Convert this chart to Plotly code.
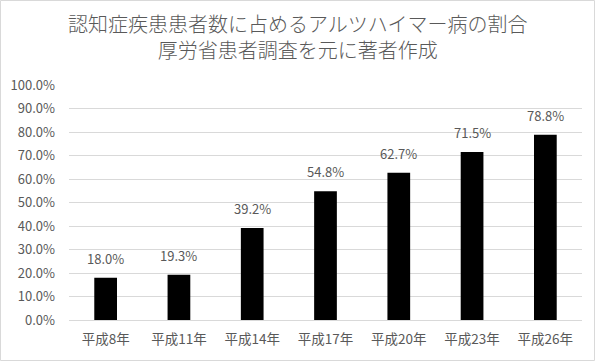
import plotly.graph_objects as go

categories = ["平成8年", "平成11年", "平成14年", "平成17年", "平成20年", "平成23年", "平成26年"]
values = [0.180, 0.193, 0.392, 0.548, 0.627, 0.715, 0.788]
y_ticks = [i / 10 for i in range(11)]
title_text = "認知症疾患患者数に占めるアルツハイマー病の割合<br>厚労省患者調査を元に著者作成"

W, H = 600, 361
ML, MR, MT, MB = 69, 18, 85, 41
PW, PH = W - ML - MR, H - MT - MB

FONT = "Noto Sans CJK JP"
GRAY = "#595959"

fig = go.Figure()
fig.add_trace(go.Bar(
    x=categories, y=values,
    marker=dict(color="#000000", line=dict(width=0)),
    hoverinfo="skip",
))

for c, v in zip(categories, values):
    fig.add_annotation(
        x=c, y=v, text=f"{v*100:.1f}%", showarrow=False,
        yanchor="bottom", yshift=8,
        font=dict(family=FONT, size=13, color=GRAY),
    )

# two-line title as an annotation for exact placement
fig.add_annotation(
    text=title_text, xref="paper", yref="paper",
    x=(W / 2 - 3 - ML) / PW, xanchor="center",
    y=1 + (MT - 7) / PH, yanchor="top",
    showarrow=False, align="center",
    font=dict(family=FONT, size=20, color=GRAY, weight=300),
)

# outer light border
fig.add_shape(
    type="rect", xref="paper", yref="paper",
    x0=-(ML - 0.5) / PW, x1=1 + (MR - 5.5) / PW,
    y0=-(MB - 0.5) / PH, y1=1 + (MT - 0.5) / PH,
    line=dict(color="#d9d9d9", width=1), fillcolor="rgba(0,0,0,0)", layer="below",
)

fig.update_layout(
    width=W, height=H,
    margin=dict(l=ML, r=MR, t=MT, b=MB, pad=0),
    paper_bgcolor="white", plot_bgcolor="white",
    showlegend=False,
    bargap=0.69,
    font=dict(family=FONT, color=GRAY),
    xaxis=dict(
        showgrid=False, showline=False, zeroline=False, ticks="",
        tickfont=dict(family=FONT, size=13.5, color=GRAY),
        ticklabelstandoff=9,
    ),
    yaxis=dict(
        range=[0, 1.0], tickvals=y_ticks, tickformat=".1%",
        showgrid=True, gridcolor="#d9d9d9", gridwidth=1,
        zeroline=True, zerolinecolor="#d9d9d9", zerolinewidth=1,
        showline=False, ticks="",
        tickfont=dict(family=FONT, size=13, color=GRAY),
        ticklabelstandoff=13,
    ),
)

fig.write_html(
    "out.html",
    config={"displayModeBar": False},
    post_script="document.body.style.margin='0';document.body.style.overflow='hidden';",
)
